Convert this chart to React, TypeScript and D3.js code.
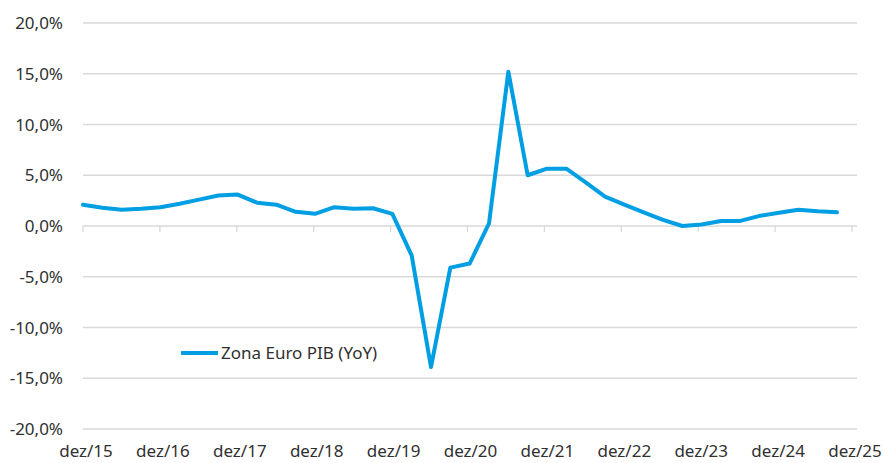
import React from "react";
import * as d3 from "d3";

// Quarterly observations, Q4 2015 (dez/15) through Q3 2025
const quarterLabels: string[] = [
  "dez/15", "mar/16", "jun/16", "set/16", "dez/16", "mar/17", "jun/17", "set/17",
  "dez/17", "mar/18", "jun/18", "set/18", "dez/18", "mar/19", "jun/19", "set/19",
  "dez/19", "mar/20", "jun/20", "set/20", "dez/20", "mar/21", "jun/21", "set/21",
  "dez/21", "mar/22", "jun/22", "set/22", "dez/22", "mar/23", "jun/23", "set/23",
  "dez/23", "mar/24", "jun/24", "set/24", "dez/24", "mar/25", "jun/25", "set/25",
];
const gdpYoY: number[] = [
  2.1, 1.8, 1.6, 1.7, 1.85, 2.2, 2.6, 3.0,
  3.1, 2.3, 2.1, 1.4, 1.2, 1.85, 1.7, 1.75,
  1.2, -2.9, -13.9, -4.1, -3.7, 0.25, 15.2, 5.0,
  5.65, 5.65, 4.3, 2.9, 2.1, 1.35, 0.6, 0.0,
  0.15, 0.5, 0.5, 1.0, 1.3, 1.6, 1.45, 1.35,
];
const xTickLabels: string[] = [
  "dez/15", "dez/16", "dez/17", "dez/18", "dez/19", "dez/20",
  "dez/21", "dez/22", "dez/23", "dez/24", "dez/25",
];
const yTicks: number[] = [20, 15, 10, 5, 0, -5, -10, -15, -20];
const seriesName = "Zona Euro PIB (YoY)";

const W = 883;
const H = 463;
const FONT = "'Noto Sans', 'Open Sans', sans-serif";
const TEXT = "#303030";
const GRID = "#D9D9D9";
const LINE = "#009FE3";

export default function App() {
  // year ticks (dez/15 .. dez/25)
  const xYear = d3.scaleLinear().domain([0, xTickLabels.length - 1]).range([83, 852]);
  // quarterly observations
  const xQ = d3.scaleLinear().domain([0, quarterLabels.length - 1]).range([83, 837]);
  const y = d3.scaleLinear().domain([-20, 20]).range([429, 23]);
  const axisEnd = 857;

  const line = d3
    .line<number>()
    .x((_, i) => xQ(i))
    .y((d) => y(d));

  const fmt = (v: number) => v.toFixed(1).replace(".", ",") + "%";

  return (
    <svg
      width={W}
      height={H}
      style={{ position: "absolute", left: 0, top: 0, background: "#fff" }}
    >
      <rect x={0} y={0} width={W} height={H} fill="#fff" />
      {yTicks.map((t) => (
        <g key={t}>
          <line
            x1={xYear(0)}
            x2={axisEnd}
            y1={y(t)}
            y2={y(t)}
            stroke={GRID}
            strokeWidth={1.3}
          />
          <text
            x={63}
            y={y(t)}
            dy="0.36em"
            textAnchor="end"
            fontFamily={FONT}
            fontSize={17}
            fill={TEXT}
          >
            {fmt(t)}
          </text>
        </g>
      ))}
      {xTickLabels.map((lab, k) => (
        <g key={lab}>
          <line
            x1={xYear(k)}
            x2={xYear(k)}
            y1={y(0)}
            y2={y(0) + 6}
            stroke={GRID}
            strokeWidth={1.3}
          />
          <text
            x={xYear(k) + 3}
            y={457}
            textAnchor="middle"
            fontFamily={FONT}
            fontSize={17}
            fill={TEXT}
          >
            {lab}
          </text>
        </g>
      ))}
      <path
        d={line(gdpYoY) || ""}
        fill="none"
        stroke={LINE}
        strokeWidth={4}
        strokeLinejoin="round"
        strokeLinecap="round"
      />
      <g>
        <line x1={181} x2={218} y1={353} y2={353} stroke={LINE} strokeWidth={4} />
        <text
          x={221}
          y={353}
          dy="0.36em"
          fontFamily={FONT}
          fontSize={17}
          fill={TEXT}
        >
          {seriesName}
        </text>
      </g>
    </svg>
  );
}
